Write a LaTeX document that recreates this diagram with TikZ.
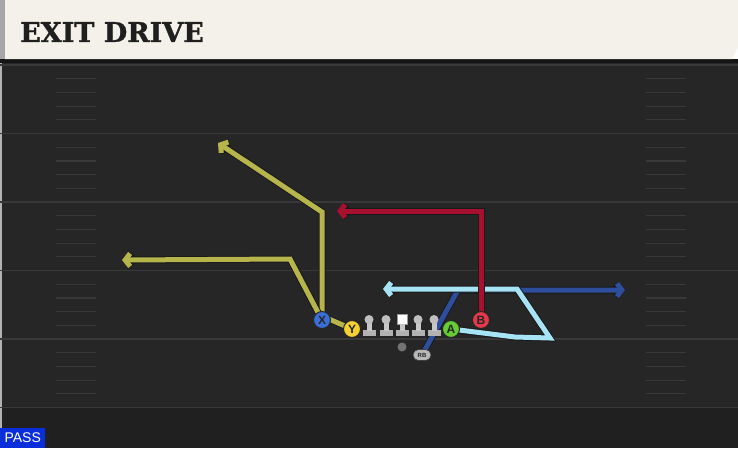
\documentclass[tikz,border=0pt]{standalone}
\usepackage{fontspec}
\usetikzlibrary{arrows.meta, positioning, shapes.misc}
\newfontfamily\titlefont[FakeBold=1.2]{DejaVu Serif}
\newfontfamily\labelfont{Liberation Sans}

\definecolor{field}{HTML}{262626}
\definecolor{fieldlow}{HTML}{202020}
\definecolor{yardline}{HTML}{393939}
\definecolor{header}{HTML}{F4F1EA}
\definecolor{routeyellow}{HTML}{B6B54C}
\definecolor{routered}{HTML}{A8102F}
\definecolor{routecyan}{HTML}{A6E3F5}
\definecolor{routeblue}{HTML}{2C4E9C}
\definecolor{playerX}{HTML}{3A6FD8}
\definecolor{playerY}{HTML}{F5D033}
\definecolor{playerA}{HTML}{66CC33}
\definecolor{playerB}{HTML}{E3394B}
\definecolor{passblue}{HTML}{0B2EDB}

\pgfdeclarelayer{field}
\pgfdeclarelayer{routes}
\pgfsetlayers{field,routes,main}

\tikzstyle{receiver} = [circle, draw=black!85, line width=1pt, minimum size=17pt, inner sep=0pt, font=\labelfont\bfseries\fontsize{12}{12}\selectfont, text=black!85]
\tikzstyle{route} = [line width=5pt, preaction={draw=black!90, line width=7pt}]
\tikzstyle{routearrow} = [route, -{Straight Barb[length=5pt, width=13pt]}]
\tikzstyle{hashmark} = [yardline, line width=1.2pt]

\begin{document}
\begin{tikzpicture}[x=1pt, y=-1pt]
\useasboundingbox (0,0) rectangle (738,448);

% Field and header
\begin{pgfonlayer}{field}
\fill[field] (0,59) rectangle (738,448);
\fill[fieldlow] (0,408) rectangle (738,448);
\fill[black!92] (0,59) rectangle (738,63);
\fill[header] (5,0) -- (738,0) -- (738,47) -- (732,59) -- (5,59) -- cycle;
\fill[black!35] (0,0) rectangle (5,59);
\fill[black!30] (0,63) rectangle (2,448);
\foreach \yl in {65,133.5,202,270.5,339,407.5}
  \draw[yardline, line width=1.5pt] (0,\yl) -- (738,\yl);
\foreach \yl in {65,133.5,202,270.5,339}
  \foreach \k in {1,...,4} {
    \draw[hashmark] (56,{\yl+13.7*\k}) -- (96,{\yl+13.7*\k});
    \draw[hashmark] (646,{\yl+13.7*\k}) -- (686,{\yl+13.7*\k});
  }
\end{pgfonlayer}

% Title and play type
\node (title) [anchor=west, inner sep=0pt, text=black!88, font=\titlefont\bfseries\fontsize{27}{27}\selectfont] at (20,32) {EXIT DRIVE};
\node (pass) [anchor=south west, fill=passblue, text=white, inner sep=0pt, minimum width=45pt, minimum height=20pt, font=\labelfont\fontsize{14}{14}\selectfont] at (0,448) {PASS};

% Players
\node (X) [receiver, fill=playerX] at (322,320) {X};
\node (Y) [receiver, fill=playerY] at (352,329) {Y};
\node (A) [receiver, fill=playerA] at (451,329) {A};
\node (B) [receiver, fill=playerB] at (481,320) {B};
\node (qb) [circle, fill=black!55, minimum size=9pt, inner sep=0pt] at (402,347) {};
\node (rb) [rounded rectangle, fill=black!28, draw=black!75, line width=0.6pt, minimum width=18pt, minimum height=11pt, inner sep=0pt, text=black!85, font=\labelfont\bfseries\fontsize{6}{6}\selectfont] at (422,355) {RB};

% Offensive line
\foreach \lx in {369,386,418,434} {
  \fill[black!30] (\lx-6.5,330) rectangle (\lx+6.5,336);
  \fill[black!22] (\lx-2.5,321) rectangle (\lx+2.5,331);
  \fill[black!25] (\lx,319.5) circle (4.5pt);
}
\node (center) [fill=white, draw=black!40, line width=0.5pt, minimum size=10pt, inner sep=0pt] at (402,319) {};
\fill[black!30] (395.5,330) rectangle (408.5,336);
\fill[black!22] (399.5,324) rectangle (404.5,331);

% Routes
\coordinate (ypivot) at (322,316);
\coordinate (ycorner) at (322,212);
\coordinate (ytip) at (218,143);
\coordinate (xcorner) at (290,259);
\coordinate (xtip) at (122,260);
\coordinate (bcorner) at (481,211);
\coordinate (btip) at (337,211);
\coordinate (alow) at (515,337);
\coordinate (aout) at (550,338);
\coordinate (aturn) at (517,289);
\coordinate (atip) at (383,289);
\coordinate (rbcorner) at (458,290);
\coordinate (rbtip) at (625,290);

\begin{pgfonlayer}{routes}
\draw [routearrow, routeblue] (rb.center) -- (rbcorner) -- (rbtip);
\draw [routearrow, routecyan] (A.center) -- (alow) -- (aout) -- (aturn) -- (atip);
\draw [routearrow, routered] (B.center) -- (bcorner) -- (btip);
\draw [routearrow, routeyellow] (Y.center) -- (ypivot) -- (ycorner) -- (ytip);
\draw [routearrow, routeyellow] (X.center) -- (xcorner) -- (xtip);
\end{pgfonlayer}

\end{tikzpicture}
\end{document}
